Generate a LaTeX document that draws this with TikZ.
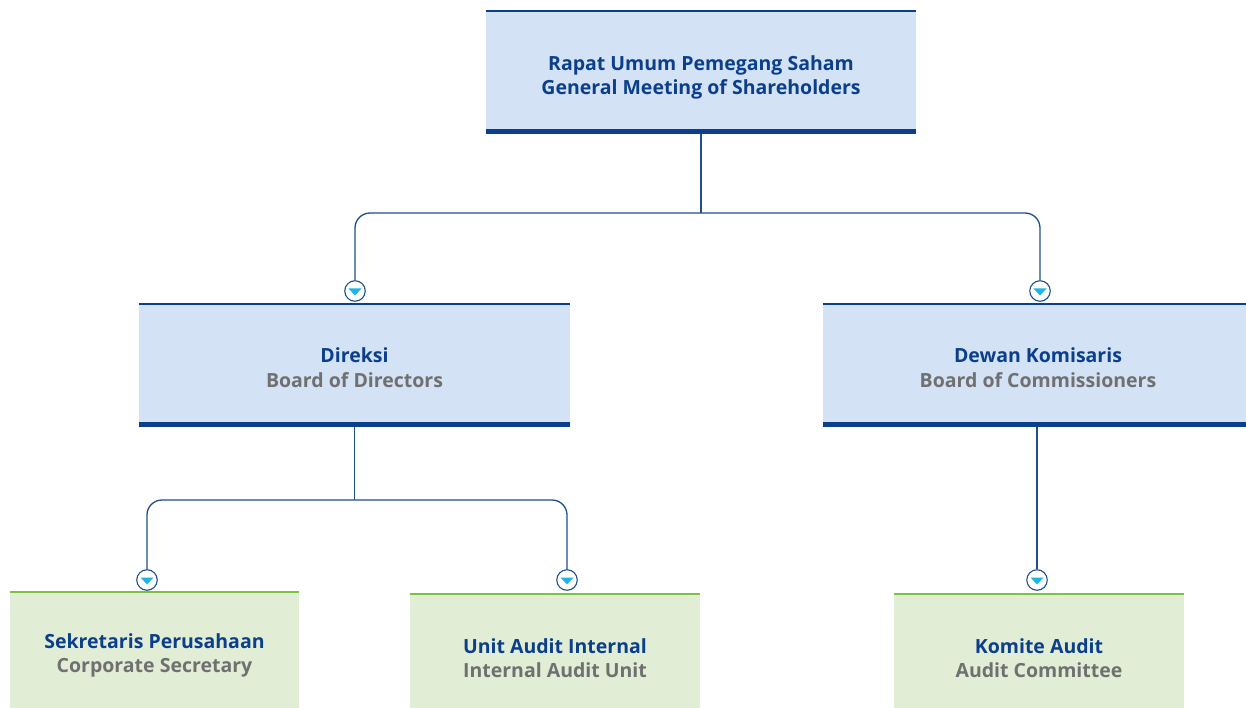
\documentclass[tikz,border=0pt]{standalone}
\usepackage{fontspec}
\setmainfont{Open Sans}
\definecolor{navy}{HTML}{0B3F8C}
\definecolor{bluefill}{HTML}{D3E2F4}
\definecolor{greenfill}{HTML}{E1EDD4}
\definecolor{greenline}{HTML}{7DC142}
\definecolor{greytext}{HTML}{707070}
\definecolor{linec}{HTML}{1F4E8C}
\definecolor{cyanc}{HTML}{1BB5E8}
\begin{document}
\begin{tikzpicture}[x=1pt,y=-1pt,
  bluebox/.style={rectangle, fill=bluefill, inner sep=0pt, minimum height=123pt},
  greenbox/.style={rectangle, fill=greenfill, inner sep=0pt, minimum width=290pt},
  lbl/.style={align=center, inner sep=0pt, font=\fontsize{19.5}{24.5}\selectfont\bfseries},
  conn/.style={draw=linec, line width=1.3pt},
  marker/.style={circle, draw=linec, fill=white, line width=1.1pt, minimum size=20.5pt, inner sep=0pt},
]
\useasboundingbox (0,0) rectangle (1246,708);
% boxes
\node[bluebox, minimum width=430pt] (gms) at (701,72.5) {};
\node[bluebox, minimum width=431pt] (dir) at (354.5,365.5) {};
\node[bluebox, minimum width=423pt] (dk) at (1034.5,365.5) {};
\node[greenbox, minimum width=289pt, minimum height=116pt] (sek) at (154.5,650) {};
\node[greenbox, minimum height=114pt] (uai) at (555,651) {};
\node[greenbox, minimum height=114pt] (ka) at (1039,651) {};
% labels
\node[lbl] (gmsT) at (701,77.5) {\textcolor{navy}{Rapat Umum Pemegang Saham}\\\textcolor{navy}{General Meeting of Shareholders}};
\node[lbl] (dirT) at (354.5,367.5) {\textcolor{navy}{Direksi}\\\textcolor{greytext}{Board of Directors}};
\node[lbl] (dkT) at (1038,367.5) {\textcolor{navy}{Dewan Komisaris}\\\textcolor{greytext}{Board of Commissioners}};
\node[lbl] (sekT) at (154.5,655.5) {\textcolor{navy}{Sekretaris Perusahaan}\\\textcolor{greytext}{Corporate Secretary}};
\node[lbl] (uaiT) at (555,658) {\textcolor{navy}{Unit Audit Internal}\\\textcolor{greytext}{Internal Audit Unit}};
\node[lbl] (kaT) at (1039,658) {\textcolor{navy}{Komite Audit}\\\textcolor{greytext}{Audit Committee}};
% box edges
\foreach \n in {gms,dir,dk}{
  \draw[navy, line width=2.5pt] (\n.north west) -- (\n.north east);
  \draw[navy, line width=5pt] ([yshift=2.5pt]\n.south west) -- ([yshift=2.5pt]\n.south east);
}
\foreach \n in {sek,uai,ka}{
  \draw[greenline, line width=2.5pt] (\n.north west) -- (\n.north east);
}
% markers
\foreach \nm/\x/\y in {m1/355/291, m2/1040/291, m3/147/580, m4/567/580, m5/1037/580}{
  \node[marker] (\nm) at (\x,\y) {};
  \fill[cyanc] ([xshift=-6.5pt,yshift=2.5pt]\nm.center) -- ([xshift=6.5pt,yshift=2.5pt]\nm.center) -- ([yshift=-4.5pt]\nm.center) -- cycle;
}
% connectors
\coordinate (j1) at (gms.south |- 0,213);
\coordinate (j2) at (dir.south |- 0,500);
\draw[conn] (gms.south) -- (j1);
\draw[conn, rounded corners=15pt] (j1) -| (m1.north);
\draw[conn, rounded corners=15pt] (j1) -| (m2.north);
\draw[conn] (dir.south) -- (j2);
\draw[conn, rounded corners=15pt] (j2) -| (m3.north);
\draw[conn, rounded corners=15pt] (j2) -| (m4.north);
\draw[conn] (dk.south -| m5.north) -- (m5.north);
\end{tikzpicture}
\end{document}
